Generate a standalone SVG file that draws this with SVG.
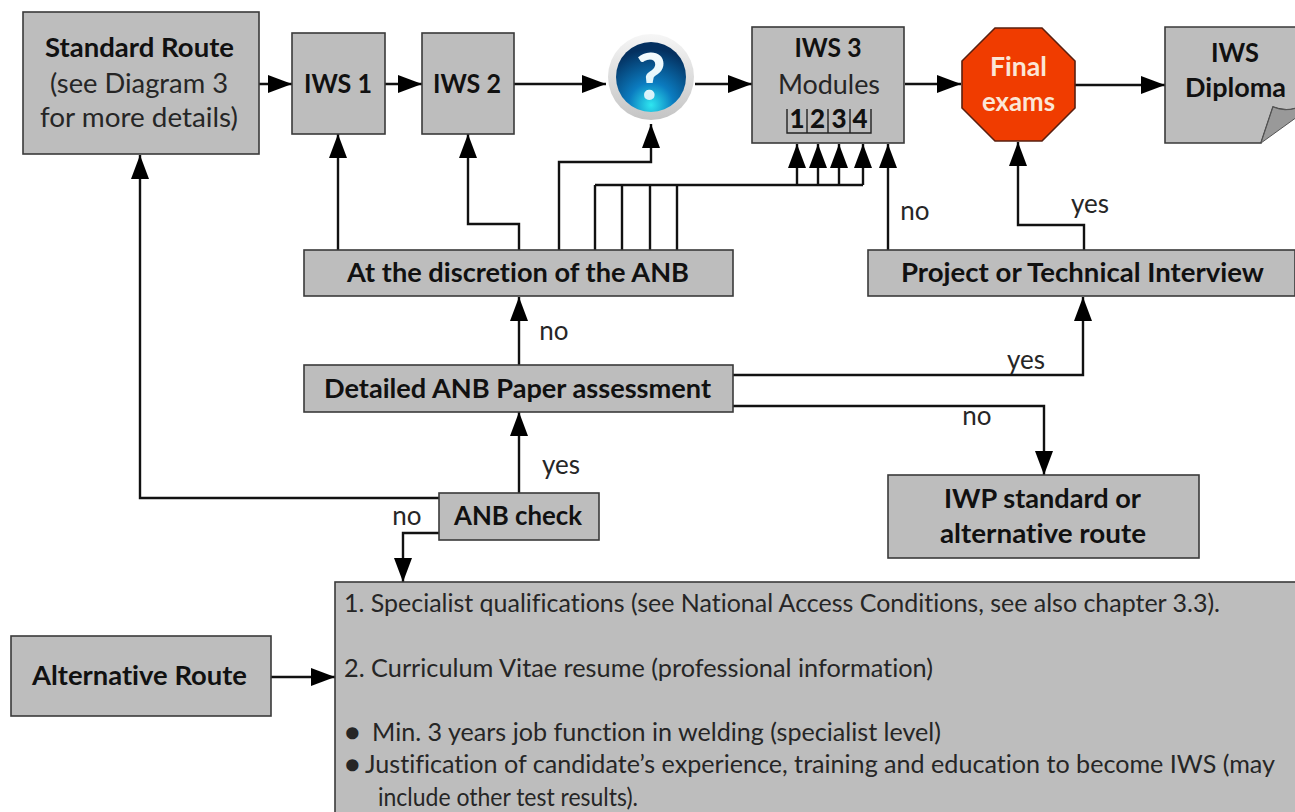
<svg xmlns="http://www.w3.org/2000/svg" width="1295" height="812" viewBox="0 0 1295 812">
<style>
text{font-family:Lato,"Open Sans","Noto Sans",sans-serif;fill:#262626;font-size:26px;text-anchor:middle;font-variant-ligatures:none}
.b{font-weight:700;fill:#111}
.l{text-anchor:start}
.s{font-size:25px}
.d{font-size:26px;font-weight:900;fill:#111}
.n{fill:#bdbdbd;stroke:#3a3a3a;stroke-width:1.6}
.c{fill:none;stroke:#111;stroke-width:2.4}
.c2{fill:none;stroke:#111;stroke-width:2.4;marker-end:url(#a)}
.w{fill:#fbe6d6}
</style>
<defs>
<marker id="a" markerUnits="userSpaceOnUse" markerWidth="26" markerHeight="20" refX="24" refY="9" orient="auto"><path d="M0 0L24 9L0 18Z" fill="#000"/></marker>
<radialGradient id="q" cx="50%" cy="90%" r="80%"><stop offset="0" stop-color="#2ee6f0"/><stop offset=".4" stop-color="#0b7cc0"/><stop offset="1" stop-color="#04305f"/></radialGradient>
<linearGradient id="r" x1="0" y1="0" x2="0" y2="1"><stop offset="0" stop-color="#f6f6f6"/><stop offset="1" stop-color="#c4c4c4"/></linearGradient>
<linearGradient id="t" x1="0" y1="0" x2="0" y2="1"><stop offset="0" stop-color="#ffffff"/><stop offset="1" stop-color="#cdeef8"/></linearGradient>
</defs>
<g id="connectors">
<path class="c2" d="M259 84H292"/>
<path class="c2" d="M385 84H422"/>
<path class="c2" d="M514 84H606"/>
<path class="c2" d="M695 84H752"/>
<path class="c2" d="M905 84H961"/>
<path class="c2" d="M1075 85H1165"/>
<path class="c2" d="M338 250V134"/>
<path class="c2" d="M519 250V224H468V134"/>
<path class="c2" d="M559 250V162H651V124"/>
<path class="c" d="M595 250V185"/><path class="c" d="M622 250V185"/><path class="c" d="M650 250V185"/><path class="c" d="M677 250V185"/>
<path class="c" d="M595 185H863"/>
<path class="c2" d="M797 185V144"/><path class="c2" d="M818 185V144"/><path class="c2" d="M839 185V144"/><path class="c2" d="M863 185V144"/>
<path class="c2" d="M888 250V144"/>
<path class="c2" d="M1084 250V225H1018V142"/>
<path class="c2" d="M519 365V297"/>
<path class="c2" d="M733 375H1083V297"/>
<path class="c2" d="M733 406H1044V475"/>
<path class="c2" d="M519 493V412"/>
<path class="c2" d="M439 498H140V155"/>
<path class="c2" d="M439 533H403V582"/>
<path class="c2" d="M271 677H335"/>
</g>
<g id="standard-route"><rect class="n" x="23" y="12" width="236" height="142"/><text class="b" x="139.500" y="57" textLength="189" lengthAdjust="spacingAndGlyphs">Standard Route</text><text x="139" y="93" textLength="178" lengthAdjust="spacingAndGlyphs">(see Diagram 3</text><text x="139" y="127" textLength="198" lengthAdjust="spacingAndGlyphs">for more details)</text></g>
<g id="iws1"><rect class="n" x="292" y="33" width="93" height="101"/><text class="b" x="338" y="93" textLength="68" lengthAdjust="spacingAndGlyphs">IWS 1</text></g>
<g id="iws2"><rect class="n" x="422" y="33" width="92" height="101"/><text class="b" x="467" y="93" textLength="68" lengthAdjust="spacingAndGlyphs">IWS 2</text></g>
<g id="question"><circle cx="651" cy="77" r="43" fill="url(#r)"/><circle cx="651" cy="77" r="35" fill="url(#q)"/><text x="651" y="100" style="font-size:64px;font-weight:900;fill:url(#t)">?</text></g>
<g id="iws3"><rect class="n" x="752" y="27" width="152" height="116"/><text class="b" x="828" y="57" textLength="67" lengthAdjust="spacingAndGlyphs">IWS 3</text><text x="829" y="94" textLength="102" lengthAdjust="spacingAndGlyphs">Modules</text>
<text class="d" x="797" y="128">1</text><text class="d" x="817.500" y="128">2</text><text class="d" x="839" y="128">3</text><text class="d" x="860" y="128">4</text>
<path fill="none" stroke="#222" stroke-width="1.4" d="M787 109V133H871V109M807 109V133M828 109V133M850 109V133"/>
</g>
<g id="final-exams"><path d="M995 28H1042L1075 61V108L1042 141H995L962 108V61Z" fill="#f03c00" stroke="#5a2010" stroke-width="1.6"/><text class="b w" x="1018.500" y="76" textLength="57" lengthAdjust="spacingAndGlyphs">Final</text><text class="b w" x="1018.500" y="111" textLength="73" lengthAdjust="spacingAndGlyphs">exams</text></g>
<g id="iws-diploma"><path class="n" d="M1165 27H1297V108Q1285 112 1273 107L1261 143H1165Z"/><path d="M1261 143L1273 107Q1285 112 1297 108V117Z" fill="#999" stroke="#555" stroke-width="1"/><text class="b" x="1235" y="62" textLength="48" lengthAdjust="spacingAndGlyphs">IWS</text><text class="b" x="1235.500" y="97" textLength="101" lengthAdjust="spacingAndGlyphs">Diploma</text></g>
<g id="discretion"><rect class="n" x="304" y="250" width="429" height="46"/><text class="b" x="518" y="282" textLength="342" lengthAdjust="spacingAndGlyphs">At the discretion of the ANB</text></g>
<g id="project"><rect class="n" x="868" y="250" width="427" height="46"/><text class="b" x="1082.500" y="282" textLength="363" lengthAdjust="spacingAndGlyphs">Project or Technical Interview</text></g>
<g id="paper"><rect class="n" x="304" y="365" width="429" height="47"/><text class="b" x="517.500" y="398" textLength="387" lengthAdjust="spacingAndGlyphs">Detailed ANB Paper assessment</text></g>
<g id="iwp"><rect class="n" x="888" y="475" width="311" height="83"/><text class="b" x="1042.500" y="508" textLength="197" lengthAdjust="spacingAndGlyphs">IWP standard or</text><text class="b" x="1043" y="543" textLength="206" lengthAdjust="spacingAndGlyphs">alternative route</text></g>
<g id="anb-check"><rect class="n" x="439" y="493" width="160" height="47"/><text class="b" x="518" y="525" textLength="128" lengthAdjust="spacingAndGlyphs">ANB check</text></g>
<g id="alternative-route"><rect class="n" x="11" y="636" width="260" height="80"/><text class="b" x="139.500" y="685" textLength="215" lengthAdjust="spacingAndGlyphs">Alternative Route</text></g>
<g id="requirements"><rect class="n" x="335" y="582" width="965" height="240"/>
<text class="l s" x="344" y="612" textLength="876" lengthAdjust="spacingAndGlyphs">1. Specialist qualifications (see National Access Conditions, see also chapter 3.3).</text>
<text class="l s" x="344" y="677" textLength="589" lengthAdjust="spacingAndGlyphs">2. Curriculum Vitae resume (professional information)</text>
<text class="l s" x="345" y="741">●</text><text class="l s" x="372" y="741" textLength="569" lengthAdjust="spacingAndGlyphs">Min. 3 years job function in welding (specialist level)</text>
<text class="l s" x="345" y="773">●</text><text class="l s" x="365" y="773" textLength="910" lengthAdjust="spacingAndGlyphs">Justification of candidate’s experience, training and education to become IWS (may</text>
<text class="l s" x="378" y="806" textLength="260" lengthAdjust="spacingAndGlyphs">include other test results).</text></g>
<g id="labels">
<text x="554" y="340">no</text><text x="915" y="220">no</text><text x="1090" y="213">yes</text><text x="1026" y="369">yes</text><text x="977" y="425">no</text><text x="561" y="474">yes</text><text x="407" y="525">no</text>
</g>
</svg>
